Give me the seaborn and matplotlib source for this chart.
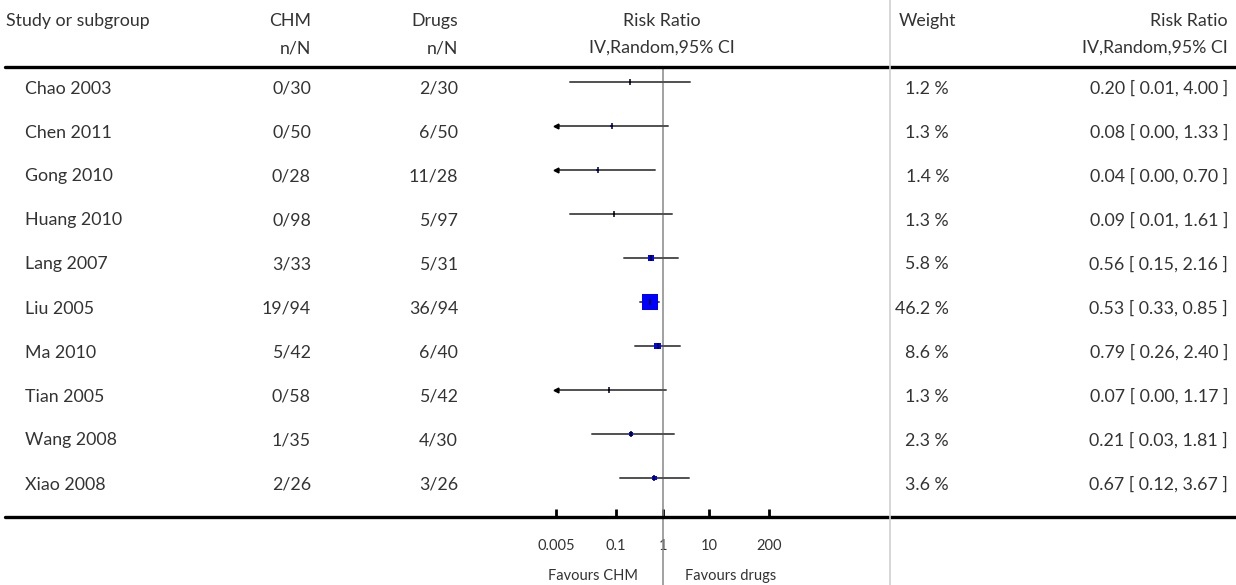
import numpy as np
import pandas as pd
import seaborn as sns
import matplotlib.pyplot as plt
from matplotlib.lines import Line2D

# data
studies = ["Chao 2003", "Chen 2011", "Gong 2010", "Huang 2010", "Lang 2007",
           "Liu 2005", "Ma 2010", "Tian 2005", "Wang 2008", "Xiao 2008"]
chm = ["0/30", "0/50", "0/28", "0/98", "3/33", "19/94", "5/42", "0/58", "1/35", "2/26"]
drugs = ["2/30", "6/50", "11/28", "5/97", "5/31", "36/94", "6/40", "5/42", "4/30", "3/26"]
weights = [1.2, 1.3, 1.4, 1.3, 5.8, 46.2, 8.6, 1.3, 2.3, 3.6]
rr = [0.20, 0.08, 0.04, 0.09, 0.56, 0.53, 0.79, 0.07, 0.21, 0.67]
lo = [0.01, 0.00, 0.00, 0.01, 0.15, 0.33, 0.26, 0.00, 0.03, 0.12]
hi = [4.00, 1.33, 0.70, 1.61, 2.16, 0.85, 2.40, 1.17, 1.81, 3.67]
tick_vals = [0.005, 0.1, 1, 10, 200]
tick_labels = ["0.005", "0.1", "1", "10", "200"]

df = pd.DataFrame({"study": studies, "weight": weights, "rr": rr, "lo": lo, "hi": hi})
df["row"] = np.arange(len(df))

sns.set_theme(style="white")
plt.rcParams["font.family"] = ["Lato", "DejaVu Sans"]
FS = 12.8
FS_SMALL = 10.5
TXT = "#333333"

W, H = 1236, 585
fig = plt.figure(figsize=(W / 100, H / 100), dpi=100)


def fx(x):
    return x / W


def fy(y):
    return 1 - y / H


def label(x, y, s, ha, size=FS):
    # y is the text baseline in pixels
    fig.text(fx(x), fy(y), s, fontsize=size, va="baseline", ha=ha, color=TXT)


# forest axes: spans 0.005 .. 200 on log scale
XMIN, XMAX = 0.005, 200
ax = fig.add_axes([fx(556), fy(517), fx(769) - fx(556), fy(68) - fy(517)])
ax.set_xscale("log")
ax.set_xlim(XMIN, XMAX)
ax.set_ylim(9.886, -0.318)
for s in ax.spines.values():
    s.set_visible(False)
ax.patch.set_alpha(0)

# confidence intervals (clipped to axis range, arrows where cut)
for _, r in df.iterrows():
    left = max(r["lo"], XMIN)
    right = min(r["hi"], XMAX)
    ax.plot([left, right], [r["row"], r["row"]], color="#505050", lw=1.4, zorder=2)
    if r["lo"] < XMIN:
        ax.plot(XMIN, r["row"], marker="<", color="black", ms=3.5, zorder=3, clip_on=False)

# weighted squares (area proportional to weight)
sns.scatterplot(data=df, x="rr", y="row", size="weight", sizes=(0, 125),
                size_norm=(0, max(weights)), marker="s", color="#0000ff",
                linewidth=0, legend=False, ax=ax, zorder=4)
ax.scatter(df["rr"], df["row"], marker="|", color="black", s=16, linewidths=1.1, zorder=5)

# line of no effect
ax.axvline(1, ymin=-(585 - 517) / 449, ymax=1, color="#888888", lw=1.1, clip_on=False, zorder=1)

ax.set_xticks(tick_vals)
ax.set_xticklabels(tick_labels)
ax.minorticks_off()
ax.tick_params(axis="x", direction="in", length=6, width=2, color="black",
               pad=16, labelsize=FS_SMALL, labelcolor=TXT, bottom=True)
ax.set_yticks([])
ax.set_xlabel("")
ax.set_ylabel("")

# rules
fig.add_artist(Line2D([fx(5), 1], [fy(67), fy(67)], color="black", lw=2.4))
fig.add_artist(Line2D([fx(5), 1], [fy(517), fy(517)], color="black", lw=2.4))
fig.add_artist(Line2D([fx(890), fx(890)], [0, 1], color="#d0d0d0", lw=1.2))

# headers
label(6, 26, "Study or subgroup", "left")
label(311, 26, "CHM", "right")
label(311, 53, "n/N", "right")
label(458, 26, "Drugs", "right")
label(458, 53, "n/N", "right")
label(662, 26, "Risk Ratio", "center")
label(662, 53, "IV,Random,95% CI", "center")
label(899, 26, "Weight", "left")
label(1228, 26, "Risk Ratio", "right")
label(1228, 53, "IV,Random,95% CI", "right")

# table rows
for i in range(len(studies)):
    y = 93.5 + 44 * i
    label(25, y, studies[i], "left")
    label(311, y, chm[i], "right")
    label(458, y, drugs[i], "right")
    label(949, y, f"{weights[i]:.1f} %", "right")
    label(1228, y, f"{rr[i]:.2f} [ {lo[i]:.2f}, {hi[i]:.2f} ]", "right")

label(638, 580, "Favours CHM", "right", FS_SMALL)
label(685, 580, "Favours drugs", "left", FS_SMALL)

fig.savefig("out.png", dpi=100)
